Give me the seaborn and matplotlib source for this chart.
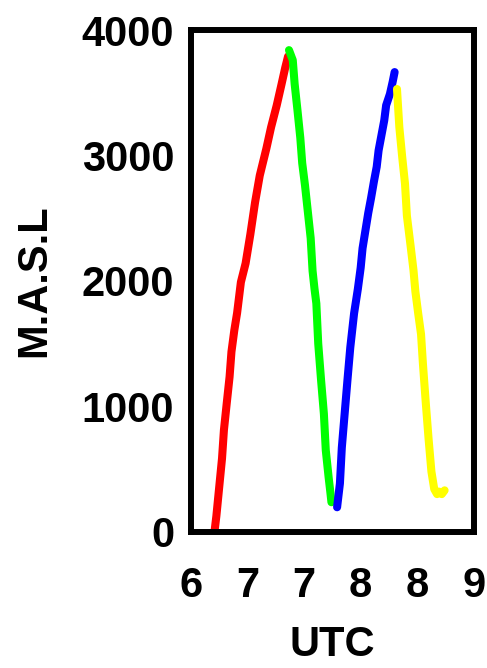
import matplotlib
matplotlib.use('Agg')
import matplotlib.pyplot as plt
import numpy as np
import pandas as pd
import seaborn as sns

# flight legs, time in hours (UTC) and altitude in m a.s.l.
red_t = [6.25, 6.27, 6.30, 6.33, 6.35, 6.38, 6.41, 6.43, 6.46, 6.49, 6.53, 6.58, 6.63, 6.68, 6.73, 6.80, 6.85, 6.91, 6.96, 7.00, 7.03]
red_z = [0, 125, 355, 585, 810, 1025, 1235, 1435, 1605, 1745, 1990, 2140, 2370, 2625, 2840, 3055, 3225, 3400, 3565, 3700, 3790]

green_t = [7.04, 7.08, 7.10, 7.13, 7.16, 7.18, 7.21, 7.24, 7.27, 7.29, 7.31, 7.33, 7.35, 7.38, 7.41, 7.43, 7.46, 7.48, 7.49]
green_z = [3840, 3760, 3570, 3360, 3140, 2940, 2760, 2550, 2340, 2080, 1940, 1820, 1500, 1210, 940, 650, 435, 305, 235]

blue_t = [7.55, 7.58, 7.60, 7.63, 7.66, 7.69, 7.73, 7.77, 7.80, 7.82, 7.85, 7.88, 7.91, 7.94, 7.97, 7.99, 8.02, 8.05, 8.07, 8.11, 8.14, 8.16]
blue_z = [195, 385, 670, 940, 1210, 1470, 1740, 1935, 2105, 2260, 2400, 2540, 2660, 2790, 2910, 3040, 3160, 3280, 3400, 3490, 3590, 3665]

yellow_t = [8.185, 8.21, 8.24, 8.27, 8.29, 8.33, 8.36, 8.38, 8.41, 8.44, 8.46, 8.49, 8.52, 8.55, 8.58, 8.61, 8.63, 8.66, 8.69]
yellow_z = [3530, 3225, 2990, 2775, 2520, 2275, 2085, 1915, 1740, 1575, 1340, 1030, 740, 480, 340, 300, 320, 300, 330]

legs = ['red', 'green', 'blue', 'yellow']
leg_colors = ['#ff0000', '#00ff00', '#0000ff', '#ffff00']

x_ticks = [6.0, 6.6, 7.2, 7.8, 8.4, 9.0]
x_labels = ['6', '7', '7', '8', '8', '9']
y_ticks = [0, 1000, 2000, 3000, 4000]

frames = []
for name, t, z in zip(legs, [red_t, green_t, blue_t, yellow_t], [red_z, green_z, blue_z, yellow_z]):
    frames.append(pd.DataFrame({'UTC': t, 'alt': z, 'leg': name}))
df = pd.concat(frames, ignore_index=True)

sns.set_style('white')
plt.rcParams['font.family'] = ['Liberation Sans', 'DejaVu Sans']
plt.rcParams['font.weight'] = 'bold'
plt.rcParams['text.color'] = 'black'
plt.rcParams['axes.labelcolor'] = 'black'

fig = plt.figure(figsize=(4.87, 6.68), dpi=100)
ax = fig.add_axes([0.392, 0.204, 0.581, 0.751])

sns.lineplot(data=df, x='UTC', y='alt', hue='leg', palette=dict(zip(legs, leg_colors)),
             sort=False, estimator=None, legend=False, linewidth=5.8, ax=ax)

ax.set_xlim(6, 9)
ax.set_ylim(0, 4000)
ax.set_xticks(x_ticks)
ax.set_xticklabels(x_labels)
ax.set_yticks(y_ticks)
for sp in ax.spines.values():
    sp.set_linewidth(4.3)
    sp.set_color('black')

ax.tick_params(axis='x', direction='in', length=13, width=1.6, pad=25, labelsize=30, colors='black')
ax.tick_params(axis='y', direction='in', length=8, width=1.6, pad=12, labelsize=30, colors='black')
for lab in ax.get_xticklabels() + ax.get_yticklabels():
    lab.set_fontweight('bold')

ax.set_xlabel('UTC', fontsize=30, fontweight='bold', labelpad=13, color='black')
ax.set_ylabel('M.A.S.L', fontsize=30, fontweight='bold', labelpad=20, color='black')

fig.savefig('out.png', dpi=100)
